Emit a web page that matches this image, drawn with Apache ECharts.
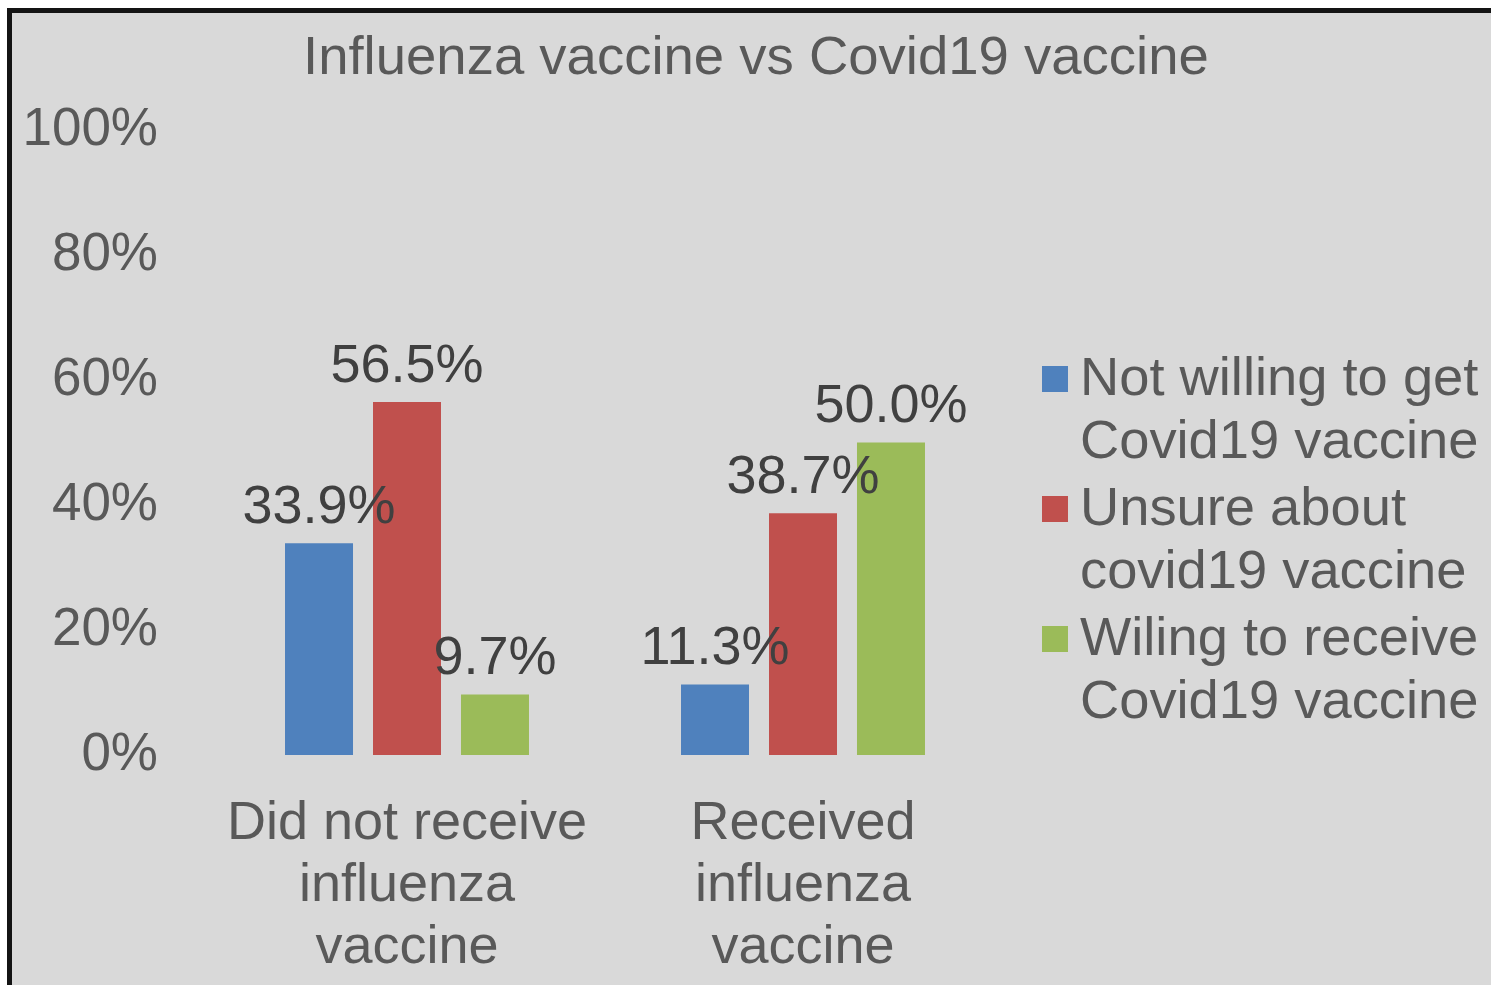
<!DOCTYPE html>
<html>
<head>
<meta charset="utf-8">
<script src="https://cdn.jsdelivr.net/npm/echarts@6/dist/echarts.min.js"></script>
<style>
  html, body { margin: 0; padding: 0; background: #ffffff; width: 1491px; height: 985px; overflow: hidden; }
  #frame { position: absolute; left: 7px; top: 8px; width: 1500px; height: 1000px;
           background: #d9d9d9; border-left: 5px solid #141414; border-top: 5px solid #141414; }
  #chart { position: absolute; left: 0; top: 0; width: 1491px; height: 985px; }
</style>
</head>
<body>
<div id="frame"></div>
<div id="chart"></div>
<script>
const titleText = 'Influenza vaccine vs Covid19 vaccine';
const categories = ['Did not receive\ninfluenza\nvaccine', 'Received\ninfluenza\nvaccine'];
const seriesNames = ['Not willing to get\nCovid19 vaccine', 'Unsure about\ncovid19 vaccine', 'Wiling to receive\nCovid19 vaccine'];
const notWilling = [33.9, 11.3];
const unsure = [56.5, 38.7];
const willing = [9.7, 50.0];
const colors = ['#4f81bd', '#c0504d', '#9bbb59'];
const yTicks = { min: 0, max: 100, interval: 20 };

// legend icon: square aligned with the first text line, invisible corner points set the box
const legendIcon = 'path://M0 17h26v26h-26z M0 0h0.01v0.01h-0.01z M33 126h0.01v-0.01h-0.01z';

const values = [notWilling, unsure, willing];
const FONT = 'Liberation Sans, Arial, sans-serif';
const chart = echarts.init(document.getElementById('chart'), null, { renderer: 'canvas' });
const option = {
  backgroundColor: 'transparent',
  animation: false,
  textStyle: { fontFamily: FONT },
  title: {
    text: titleText,
    left: 303,
    top: 31,
    padding: 0,
    textStyle: { fontSize: 54.5, fontWeight: 'normal', color: '#595959', fontFamily: FONT }
  },
  legend: {
    orient: 'vertical',
    left: 1042,
    top: 349,
    padding: 0,
    itemWidth: 33,
    itemHeight: 126,
    itemGap: 4,
    icon: legendIcon,
    textStyle: { fontSize: 54.3, lineHeight: 63, color: '#595959', padding: 0, fontFamily: FONT },
    data: seriesNames
  },
  grid: { left: 209, right: 490, top: 130, bottom: 230, containLabel: false },
  xAxis: {
    type: 'category',
    data: categories,
    axisLine: { show: false },
    axisTick: { show: false },
    axisLabel: { margin: 38, fontSize: 54, lineHeight: 62, color: '#595959', interval: 0, fontFamily: FONT }
  },
  yAxis: {
    type: 'value',
    min: yTicks.min,
    max: yTicks.max,
    interval: yTicks.interval,
    splitLine: { show: false },
    axisLine: { show: false },
    axisTick: { show: false },
    axisLabel: { margin: 51, fontSize: 53, color: '#595959', formatter: '{value}%', fontFamily: FONT }
  },
  series: seriesNames.map((name, i) => ({
    name: name,
    type: 'bar',
    data: values[i],
    barWidth: 68,
    barGap: '29.4%',
    itemStyle: { color: colors[i] },
    label: {
      show: true,
      position: 'top',
      distance: 8,
      fontSize: 54,
      color: '#404040',
      fontFamily: FONT,
      formatter: p => p.value.toFixed(1) + '%'
    }
  }))
};
chart.setOption(option);
</script>
</body>
</html>
